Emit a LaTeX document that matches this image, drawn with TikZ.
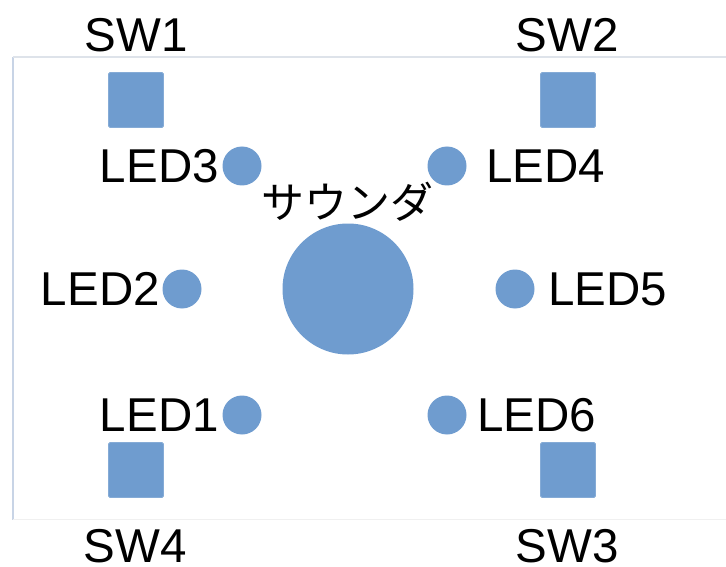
\documentclass[tikz,border=0pt]{standalone}
\usepackage{fontspec}
\setmainfont{Liberation Sans}
\newfontfamily\jpfont{Noto Sans CJK JP}
\definecolor{partblue}{RGB}{111,156,207}
\definecolor{frameleft}{RGB}{200,212,230}
\definecolor{frametop}{RGB}{222,227,234}
\definecolor{framebot}{RGB}{240,240,240}
\begin{document}
\begin{tikzpicture}[x=1pt,y=-1pt,
  switchbox/.style={rectangle,fill=partblue,draw=partblue!85!white,line width=0.8pt,minimum size=55pt,inner sep=0pt,rounded corners=1.5pt},
  ledspot/.style={circle,fill=partblue,minimum size=39pt,inner sep=0pt},
  lbl/.style={inner sep=0pt,font=\fontsize{47.5}{52}\selectfont}]
\useasboundingbox (0,0) rectangle (726,567);
% frame of the board
\draw[frameleft,line width=1.5pt] (13,57) -- (13,520);
\draw[frametop,line width=2pt] (13,57) -- (726,57);
\draw[framebot,line width=1pt] (13,519) -- (726,519);
% switches
\node[switchbox] (sw1) at (136,100) {};
\node[switchbox] (sw2) at (568,100) {};
\node[switchbox] (sw4) at (136,470) {};
\node[switchbox] (sw3) at (568,470) {};
\node[lbl] (sw1l) at (136,35) {SW1};
\node[lbl] (sw2l) at (567,35) {SW2};
\node[lbl] (sw4l) at (135,546.5) {SW4};
\node[lbl] (sw3l) at (567,546.5) {SW3};
% LEDs
\node[ledspot] (led3) at (242,166) {};
\node[ledspot] (led4) at (447,166) {};
\node[ledspot] (led2) at (182,289) {};
\node[ledspot] (led5) at (515,289) {};
\node[ledspot] (led1) at (242,415) {};
\node[ledspot] (led6) at (447,415) {};
\node[lbl,anchor=east] (led3l) at (219,166) {LED3};
\node[lbl,anchor=west] (led4l) at (486,166) {LED4};
\node[lbl,anchor=east] (led2l) at (160,289) {LED2};
\node[lbl,anchor=west] (led5l) at (548,289) {LED5};
\node[lbl,anchor=east] (led1l) at (219,415) {LED1};
\node[lbl,anchor=west] (led6l) at (477,415) {LED6};
% sounder
\node[circle,fill=partblue,minimum size=131pt,inner sep=0pt] (snd) at (348,289) {};
\node[inner sep=0pt,font=\jpfont\fontsize{43}{47}\selectfont] (sndl) at (347,202) {サウンダ};
\end{tikzpicture}
\end{document}
